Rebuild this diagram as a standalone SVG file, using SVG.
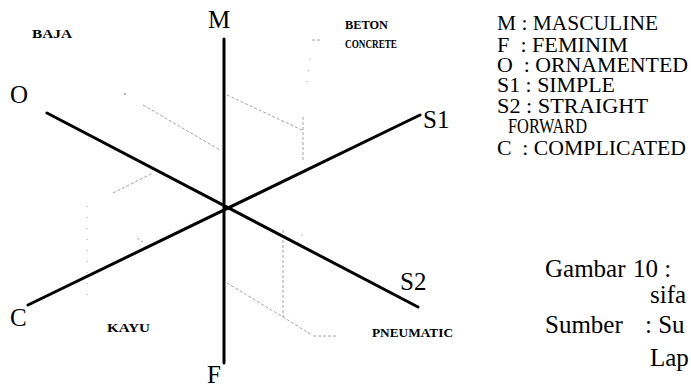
<svg xmlns="http://www.w3.org/2000/svg" width="691" height="384" viewBox="0 0 691 384">
<style>
.axis{stroke:#000;stroke-width:3;fill:none;stroke-linecap:round}
.guide{stroke:#8a8a8a;stroke-width:0.8;fill:none;stroke-dasharray:3 2}
.sparse{stroke:#8a8a8a;stroke-width:0.8;fill:none;stroke-dasharray:1 10}
.big{font-family:"Liberation Serif","Times New Roman",serif;font-size:25px;fill:#000}
.mat{font-family:"Liberation Serif","Times New Roman",serif;font-size:13px;font-weight:bold;fill:#000}
.leg{font-family:"Liberation Serif","Times New Roman",serif;font-size:20px;fill:#000}
.cap{font-family:"Liberation Serif","Times New Roman",serif;font-size:25px;fill:#000}
</style>
<rect width="691" height="384" fill="#fff"/>
<g id="guides">
<path class="guide" d="M143 105 L220 150"/>
<path class="guide" d="M227 95 L302 130"/>
<path class="guide" d="M303 117 L303 160"/>
<path class="sparse" d="M307 82 L311 52"/>
<path class="guide" d="M312 40 L320 40"/>
<path class="guide" d="M113 193 L153 173"/>
<path class="sparse" d="M87 206 L87 300"/>
<path class="guide" d="M137 238 L143 242"/>
<path class="guide" d="M283 230 L283 317"/>
<path class="guide" d="M227 283 L283 317 L312 335"/>
<path class="guide" d="M313 336 L338 336"/>
<circle cx="125" cy="94" r="0.8" fill="#555"/>
<circle cx="302" cy="235" r="0.6" fill="#777"/>
</g>
<g id="connectors">
<line class="axis" x1="224" y1="39" x2="224" y2="363"/>
<line class="axis" x1="47" y1="113" x2="418" y2="307"/>
<line class="axis" x1="28" y1="305" x2="420" y2="115"/>
</g>
<g id="node-M"><text class="big" x="208" y="28">M</text></g>
<g id="node-F"><text class="big" x="207" y="383">F</text></g>
<g id="node-O"><text class="big" x="10" y="103">O</text></g>
<g id="node-C"><text class="big" x="10" y="326">C</text></g>
<g id="node-S1"><text class="big" x="423" y="128">S1</text></g>
<g id="node-S2"><text class="big" x="400" y="290">S2</text></g>
<g id="materials">
<text class="mat" x="32" y="38" textLength="40" lengthAdjust="spacingAndGlyphs">BAJA</text>
<text class="mat" x="345" y="29" textLength="43" lengthAdjust="spacingAndGlyphs">BETON</text>
<text class="mat" x="345" y="48" textLength="52" lengthAdjust="spacingAndGlyphs">CONCRETE</text>
<text class="mat" x="107" y="332" textLength="43" lengthAdjust="spacingAndGlyphs">KAYU</text>
<text class="mat" x="372" y="337" textLength="81" lengthAdjust="spacingAndGlyphs">PNEUMATIC</text>
</g>
<g id="legend">
<text class="leg" x="497" y="30" textLength="161" lengthAdjust="spacingAndGlyphs">M : MASCULINE</text>
<text class="leg" x="497" y="52" textLength="131" lengthAdjust="spacingAndGlyphs" xml:space="preserve">F  : FEMINIM</text>
<text class="leg" x="497" y="72" textLength="191" lengthAdjust="spacingAndGlyphs" xml:space="preserve">O  : ORNAMENTED</text>
<text class="leg" x="497" y="92" textLength="118" lengthAdjust="spacingAndGlyphs">S1 : SIMPLE</text>
<text class="leg" x="497" y="113" textLength="151" lengthAdjust="spacingAndGlyphs">S2 : STRAIGHT</text>
<text class="leg" x="508" y="133" textLength="79" lengthAdjust="spacingAndGlyphs">FORWARD</text>
<text class="leg" x="497" y="155" textLength="189" lengthAdjust="spacingAndGlyphs" xml:space="preserve">C  : COMPLICATED</text>
</g>
<g id="caption">
<text class="cap" x="545" y="277">Gambar</text>
<text class="cap" x="633" y="277">10 :</text>
<text class="cap" x="650" y="303">sifa</text>
<text class="cap" x="545" y="333">Sumber</text>
<text class="cap" x="645" y="333">: Su</text>
<text class="cap" x="650" y="366">Lap</text>
</g>
</svg>
